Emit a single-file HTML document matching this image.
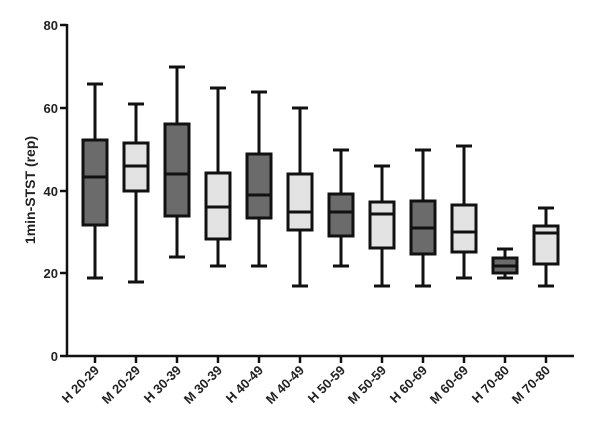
<!DOCTYPE html>
<html><head><style>body{margin:0;background:#fff}svg{display:block}text{font-family:"Liberation Sans",sans-serif;font-weight:bold;fill:#222}</style></head><body>
<svg width="600" height="425" viewBox="0 0 600 425">
<g stroke="#111" stroke-width="2.5" fill="none">
<line x1="67" y1="24" x2="67" y2="357"/>
<line x1="66" y1="356" x2="574" y2="356"/>
<line x1="60" y1="25" x2="67" y2="25"/>
<line x1="60" y1="108" x2="67" y2="108"/>
<line x1="60" y1="191" x2="67" y2="191"/>
<line x1="60" y1="273" x2="67" y2="273"/>
<line x1="60" y1="356" x2="67" y2="356"/>
<line x1="95" y1="356" x2="95" y2="363"/><line x1="136" y1="356" x2="136" y2="363"/><line x1="177" y1="356" x2="177" y2="363"/><line x1="218" y1="356" x2="218" y2="363"/><line x1="259" y1="356" x2="259" y2="363"/><line x1="300" y1="356" x2="300" y2="363"/><line x1="341" y1="356" x2="341" y2="363"/><line x1="382" y1="356" x2="382" y2="363"/><line x1="423" y1="356" x2="423" y2="363"/><line x1="464" y1="356" x2="464" y2="363"/><line x1="505" y1="356" x2="505" y2="363"/><line x1="546" y1="356" x2="546" y2="363"/>
</g>
<g font-size="13" text-anchor="end">
<text x="58" y="30">80</text><text x="58" y="113">60</text><text x="58" y="196">40</text><text x="58" y="278">20</text><text x="58" y="361">0</text>
</g>
<text transform="translate(35,190) rotate(-90)" font-size="14" text-anchor="middle">1min-STST (rep)</text>
<g stroke="#111" stroke-width="3">
<path d="M95 84V278M87 84H103M87 278H103 M136 104V282M128 104H144M128 282H144 M177 67V257M169 67H185M169 257H185 M218 88V266M210 88H226M210 266H226 M259 92V266M251 92H267M251 266H267 M300 108V286M292 108H308M292 286H308 M341 150V266M333 150H349M333 266H349 M382 166V286M374 166H390M374 286H390 M423 150V286M415 150H431M415 286H431 M464 146V278M456 146H472M456 278H472 M505 249V278M497 249H513M497 278H513 M546 208V286M538 208H554M538 286H554" fill="none"/>
<rect x="83" y="140" width="24" height="85" fill="#6b6b6b"/>
<rect x="124" y="143" width="24" height="48" fill="#e3e3e3"/>
<rect x="165" y="124" width="24" height="92" fill="#6b6b6b"/>
<rect x="206" y="173" width="24" height="66" fill="#e3e3e3"/>
<rect x="247" y="154" width="24" height="64" fill="#6b6b6b"/>
<rect x="288" y="174" width="24" height="56" fill="#e3e3e3"/>
<rect x="329" y="194" width="24" height="42" fill="#6b6b6b"/>
<rect x="370" y="202" width="24" height="46" fill="#e3e3e3"/>
<rect x="411" y="201" width="24" height="53" fill="#6b6b6b"/>
<rect x="452" y="205" width="24" height="47" fill="#e3e3e3"/>
<rect x="493" y="258" width="24" height="15" fill="#6b6b6b"/>
<rect x="534" y="226" width="24" height="38" fill="#e3e3e3"/>
<path d="M83 177H107 M124 166H148 M165 174H189 M206 207H230 M247 195H271 M288 212H312 M329 212H353 M370 214H394 M411 228H435 M452 232H476 M493 266H517 M534 233H558" fill="none"/>
</g>
<g font-size="13" text-anchor="end">
<text transform="translate(100,371) rotate(-45)">H 20-29</text>
<text transform="translate(141,371) rotate(-45)">M 20-29</text>
<text transform="translate(182,371) rotate(-45)">H 30-39</text>
<text transform="translate(223,371) rotate(-45)">M 30-39</text>
<text transform="translate(264,371) rotate(-45)">H 40-49</text>
<text transform="translate(305,371) rotate(-45)">M 40-49</text>
<text transform="translate(346,371) rotate(-45)">H 50-59</text>
<text transform="translate(387,371) rotate(-45)">M 50-59</text>
<text transform="translate(428,371) rotate(-45)">H 60-69</text>
<text transform="translate(469,371) rotate(-45)">M 60-69</text>
<text transform="translate(510,371) rotate(-45)">H 70-80</text>
<text transform="translate(551,371) rotate(-45)">M 70-80</text>
</g>
</svg></body></html>
